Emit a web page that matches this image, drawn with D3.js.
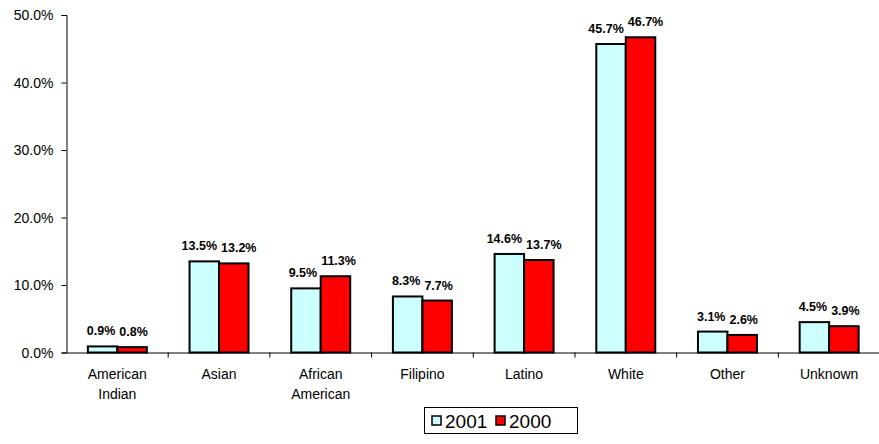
<!DOCTYPE html>
<html><head><meta charset="utf-8">
<script src="https://cdn.jsdelivr.net/npm/d3@7"></script>
<style>
html,body{margin:0;padding:0;background:#fff;}
svg{display:block;font-family:"Liberation Sans",Arial,sans-serif;}
</style></head>
<body>
<svg id="chart" width="879" height="444"></svg>
<script>
const categories = [["American","Indian"],["Asian"],["African","American"],["Filipino"],["Latino"],["White"],["Other"],["Unknown"]];
const seriesNames = ["2001","2000"];
const values2001 = [0.9, 13.5, 9.5, 8.3, 14.6, 45.7, 3.1, 4.5];
const values2000 = [0.8, 13.2, 11.3, 7.7, 13.7, 46.7, 2.6, 3.9];
const yTicks = [0, 10, 20, 30, 40, 50];
const colors = ["#CCFFFF", "#FF0000"];

(function(){
const svg = d3.select("#chart");
const mLeft = 66.5, mRight = 880, mTop = 15, mBottom = 352.5;
const idx = d3.range(categories.length);
const x0 = d3.scaleBand().domain(idx).range([mLeft, mRight]).padding(0);
const bw = x0.bandwidth();
const x1 = d3.scaleBand().domain(seriesNames).range([bw*0.21, bw*0.79]).padding(0);
const y = d3.scaleLinear().domain([0, 50]).range([mBottom, mTop]);

// y axis
const yAxis = d3.axisLeft(y).tickValues(yTicks).tickSize(5).tickFormat(d => d.toFixed(1) + "%");
const gy = svg.append("g").attr("transform", `translate(${mLeft},0)`).call(yAxis);
gy.select(".domain").attr("stroke", "#000");
gy.selectAll(".tick line").attr("stroke", "#000");
gy.selectAll(".tick text").attr("font-size", 14).attr("fill", "#000").attr("x", -13).attr("dy", "0.35em")
  .attr("font-family", "Liberation Sans, Arial, sans-serif");

// bars
const data = [values2001, values2000];
const groups = svg.append("g").selectAll("g").data(idx).join("g")
  .attr("transform", i => `translate(${x0(i)},0)`);
groups.selectAll("rect").data(i => seriesNames.map((s, k) => ({s, k, v: data[k][i]}))).join("rect")
  .attr("x", d => x1(d.s))
  .attr("y", d => y(d.v))
  .attr("width", x1.bandwidth())
  .attr("height", d => y(0) - y(d.v))
  .attr("fill", d => colors[d.k])
  .attr("stroke", "#000").attr("stroke-width", 2);
groups.each(function(i){
  const g = d3.select(this);
  const items = seriesNames.map((s, k) => ({s, k, v: data[k][i], cx: x1(s) + x1.bandwidth()/2}));
  const texts = g.selectAll("text.val").data(items).join("text")
    .attr("class", "val")
    .attr("x", d => d.cx)
    .attr("y", d => y(d.v) - 11)
    .attr("text-anchor", "middle")
    .attr("font-size", 12.5).attr("font-weight", "bold").attr("fill", "#000")
    .text(d => d.v.toFixed(1) + "%");
  // push apart overlapping labels
  const nodes = texts.nodes();
  const w0 = nodes[0].getComputedTextLength(), w1 = nodes[1].getComputedTextLength();
  const a = items[0], b = items[1];
  if (Math.abs(y(a.v) - y(b.v)) < 13) {
    const gap = (b.cx - w1/2) - (a.cx + w0/2);
    const minGap = 4;
    if (gap < minGap) {
      const sh = (minGap - gap) / 2;
      d3.select(nodes[0]).attr("x", a.cx - sh);
      d3.select(nodes[1]).attr("x", b.cx + sh);
    }
  }
});

// x axis
const xAxis = d3.axisBottom(x0).tickSize(0).tickFormat("");
const gx = svg.append("g").attr("transform", `translate(0,${mBottom})`).call(xAxis);
gx.select(".domain").attr("stroke", "#000");
gx.selectAll("line.bt").data(d3.range(1, categories.length)).join("line")
  .attr("class", "bt")
  .attr("x1", i => x0(i)).attr("x2", i => x0(i))
  .attr("y1", 0).attr("y2", 5).attr("stroke", "#000");
// category labels
const labs = svg.append("g").selectAll("text").data(idx).join("text")
  .attr("x", i => x0(i) + bw/2)
  .attr("y", 379)
  .attr("text-anchor", "middle").attr("font-size", 14).attr("fill", "#000");
labs.selectAll("tspan").data(i => categories[i].map(t => ({t, i}))).join("tspan")
  .attr("x", d => x0(d.i) + bw/2)
  .attr("dy", (d, j) => j === 0 ? 0 : 20)
  .text(d => d.t);

// legend
const lg = svg.append("g");
lg.append("rect").attr("x", 424.5).attr("y", 407.5).attr("width", 153).attr("height", 26)
  .attr("fill", "#fff").attr("stroke", "#000").attr("stroke-width", 1);
const lx = [432, 496];
seriesNames.forEach((s, k) => {
  lg.append("rect").attr("x", lx[k]).attr("y", 416).attr("width", 9).attr("height", 9)
    .attr("fill", colors[k]).attr("stroke", "#000").attr("stroke-width", 1.5);
  lg.append("text").attr("x", lx[k] + 13).attr("y", 427.5).attr("font-size", 19).attr("fill", "#000").text(s);
});
})();
</script>
</body></html>
